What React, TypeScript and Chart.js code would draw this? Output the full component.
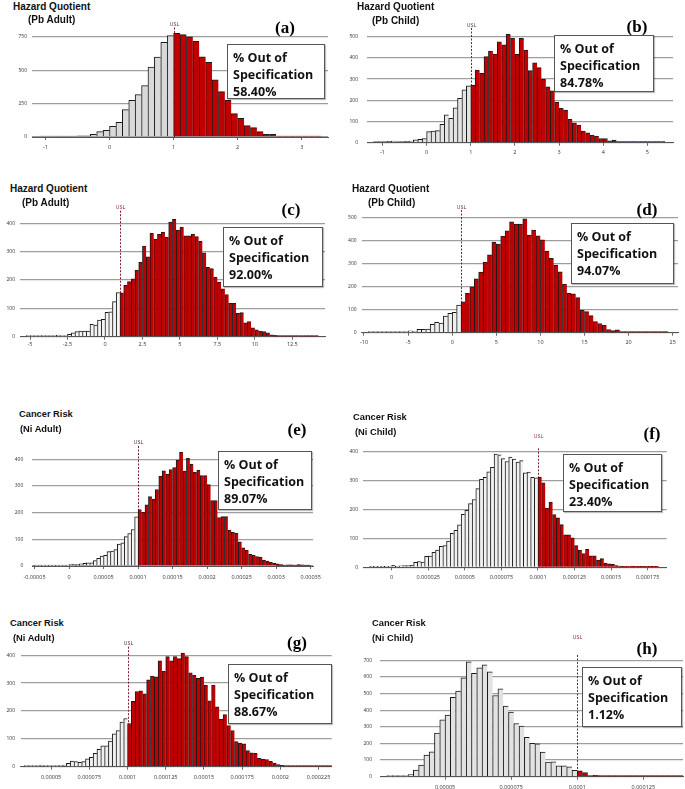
import React, { useEffect, useRef } from 'react';
import { Chart, registerables } from 'chart.js';
Chart.register(...registerables);

// ---------- DATA ----------
// (a) Hazard Quotient (Pb Adult)
const startA = -1.1; const binA = 0.1; const uslA = 1;
const grayA = [1,1,1,1,1,2,8,8,20,40,50,80,110,205,275,318,385,525,600,710,760];
const redA = [778,768,752,718,602,560,428,340,275,175,140,85,70,40,20,20,5,5,2,1,1,1,1];
const xLabelsA = ['-1','0','1','2','3'];
const yTicksA = [0,250,500,750];

// (b) Hazard Quotient (Pb Child)
const startB = -1.2; const binB = 0.1; const uslB = 1;
const grayB = [1,1,3,6,8,5,3,6,8,14,16,20,52,55,57,87,131,115,165,209,249,268];
const redB = [272,343,327,406,432,418,476,461,511,492,417,492,437,340,377,354,299,264,245,190,162,154,110,94,83,55,47,36,31,20,20,9,12,1,5,5,1,1,1,1,1,1,1,1];
const xLabelsB = ['-1','0','1','2','3','4','5'];
const yTicksB = [0,100,200,300,400,500];

// (c) Hazard Quotient (Pb Adult)
const startC = -5.25; const binC = 0.25; const uslC = 1;
const grayC = [1,1,1,1,1,1,1,2,6,3,4,8,14,18,20,20,20,44,41,59,61,86,88,124,156];
const redC = [155,181,194,204,235,262,320,282,365,344,361,369,351,404,414,376,387,356,356,362,353,336,296,245,240,209,193,169,149,118,118,82,85,49,53,31,24,20,18,14,7,5,4,2,2,3,1,3,1,1,1,1,1];
const xLabelsC = ['-5','-2.5','0','2.5','5','7.5','10','12.5'];
const yTicksC = [0,100,200,300,400];

// (d) Hazard Quotient (Pb Child)
const startD = -9.5; const binD = 0.5; const uslD = 1;
const grayD = [1,1,1,1,1,1,1,1,2,8,6,15,15,16,36,45,42,72,84,88,120];
const redD = [134,171,199,234,263,306,338,393,384,419,442,481,471,471,494,423,445,420,402,354,322,293,264,211,171,168,152,98,91,74,48,40,33,14,9,12,1,4,4,2,2,2,1,1,1,1,1];
const xLabelsD = ['-10','-5','0','5','10','15','20','25'];
const yTicksD = [0,100,200,300,400,500];

// (e) Cancer Risk (Ni Adult)
const startE = -0.00005; const binE = 0.000005; const uslE = 0.0001;
const grayE = [1,1,1,1,1,1,1,1,1,1,5,6,5,8,10,12,12,20,29,37,40,54,56,62,82,87,110,122,137,184];
const redE = [212,201,229,260,251,287,337,357,345,362,369,397,426,356,404,382,351,360,339,339,305,245,245,182,185,185,135,126,123,91,68,60,44,41,35,33,22,18,14,10,8,5,3,4,4,3,5,4,1,1];
const xLabelsE = ['-0.00005','0','0.00005','0.0001','0.00015','0.0002','0.00025','0.0003','0.00035'];
const yTicksE = [0,100,200,300,400];

// (f) Cancer Risk (Ni Child)
const startF = -0.000015; const binF = 0.0000025; const uslF = 0.0001;
const grayF = [1,1,1,1,2,3,7,3,5,6,6,7,17,20,18,38,39,52,60,73,75,91,118,128,147,184,198,221,235,273,305,312,331,347,393,390,377,367,382,375,365,370,328,330,312,310];
const redF = [313,293,205,226,183,172,148,113,113,102,75,60,48,62,40,40,25,30,15,12,10,6,4,2,2,4,1,1,1,1,1,1,1];
const xLabelsF = ['0','0.000025','0.00005','0.000075','0.0001','0.000125','0.00015','0.000175'];
const yTicksF = [0,100,200,300,400];

// (g) Cancer Risk (Ni Adult)
const startG = 0.0000325; const binG = 0.0000025; const uslG = 0.0001;
const grayG = [1,1,1,1,6,1,1,1,3,5,6,12,20,18,16,18,28,34,48,62,75,75,92,118,130,160,173];
const redG = [155,235,270,272,262,312,325,323,380,342,395,380,395,388,408,395,337,328,317,322,292,236,293,215,170,187,148,130,90,85,82,58,50,48,30,27,26,19,13,8,5,3,4,4,2,4,1,1,1,1,1,1,1,1];
const xLabelsG = ['0.00005','0.000075','0.0001','0.000125','0.00015','0.000175','0.0002','0.000225'];
const yTicksG = [0,100,200,300,400];

// (h) Cancer Risk (Ni Child)
const startH = 0.000028; const binH = 0.000002; const uslH = 0.0001;
const grayH = [2,2,3,6,12,40,70,130,150,262,342,370,478,515,595,690,622,655,672,630,488,528,425,388,320,305,237,200,197,148,88,90,65,65,60,38];
const redH = [35,25,5,8,5,3,2,1,2,1,3,1,2,1,3,1,1,2,1,1];
const xLabelsH = ['0.00005','0.000075','0.0001','0.000125'];
const yTicksH = [0,100,200,300,400,500,600,700];

// ---------- LAYOUT ----------
type Rect = { left: number; top: number; width: number; height: number };
type Cfg = {
  id: string; start: number; bin: number; usl: number; gray: number[]; red: number[];
  xLabels: string[]; yTicks: number[]; xMin: number; xMax: number; yMax: number;
  canvas: Rect; L: number; T: number; R: number; B: number; yPad: number; xPad: number;
  grayColor: string; uslColor: string; uslLabelY: number; uslLineTop: number;
  title: [string, string]; titleSize: number; titlePos: [number, number][];
  tag: string; tagPos: [number, number]; box: Rect; pct: string;
};

const RED = '#c00000';

const panels: Cfg[] = [
  { id: 'a', start: startA, bin: binA, usl: uslA, gray: grayA, red: redA, xLabels: xLabelsA, yTicks: yTicksA,
    xMin: -1.21, xMax: 3.41, yMax: 800, canvas: { left: 0, top: 16, width: 340, height: 140 },
    L: 32, T: 30.33, R: 328, B: 137, yPad: 5, xPad: 4.2, grayColor: '#d9d9d9', uslColor: '#444',
    uslLabelY: 24, uslLineTop: 27.5, title: ['Hazard Quotient', '(Pb Adult)'], titleSize: 10,
    titlePos: [[13, 7], [28, 20]], tag: '(a)', tagPos: [285, 28], box: { left: 227, top: 44, width: 98, height: 55 }, pct: '58.40%' },
  { id: 'b', start: startB, bin: binB, usl: uslB, gray: grayB, red: redB, xLabels: xLabelsB, yTicks: yTicksB,
    xMin: -1.35, xMax: 5.58, yMax: 540, canvas: { left: 340, top: 16, width: 345, height: 144 },
    L: 367, T: 28.2, R: 673, B: 142.7, yPad: 9, xPad: 3.5, grayColor: '#e4e4e4', uslColor: '#444',
    uslLabelY: 25, uslLineTop: 28, title: ['Hazard Quotient', '(Pb Child)'], titleSize: 10,
    titlePos: [[357, 7], [372, 21]], tag: '(b)', tagPos: [637, 27], box: { left: 554, top: 35, width: 100, height: 57 }, pct: '84.78%' },
  { id: 'c', start: startC, bin: binC, usl: uslC, gray: grayC, red: redC, xLabels: xLabelsC, yTicks: yTicksC,
    xMin: -5.67, xMax: 14.68, yMax: 440, canvas: { left: 0, top: 200, width: 340, height: 152 },
    L: 20, T: 211.96, R: 325, B: 336.7, yPad: 5, xPad: 1.6, grayColor: '#f3f3f3', uslColor: '#8b2a3a',
    uslLabelY: 207.7, uslLineTop: 210.7, title: ['Hazard Quotient', '(Pb Adult)'], titleSize: 10,
    titlePos: [[10, 189], [22, 203]], tag: '(c)', tagPos: [291, 210], box: { left: 223, top: 227, width: 100, height: 60 }, pct: '92.00%' },
  { id: 'd', start: startD, bin: binD, usl: uslD, gray: grayD, red: redD, xLabels: xLabelsD, yTicks: yTicksD,
    xMin: -10.26, xMax: 25.6, yMax: 540, canvas: { left: 340, top: 198, width: 345, height: 152 },
    L: 361.7, T: 208.1, R: 678, B: 332.7, yPad: 5, xPad: 3.8, grayColor: '#efefef', uslColor: '#8b2a3a',
    uslLabelY: 207.7, uslLineTop: 210, title: ['Hazard Quotient', '(Pb Child)'], titleSize: 10,
    titlePos: [[352, 189], [368, 203]], tag: '(d)', tagPos: [647, 210], box: { left: 571, top: 223, width: 103, height: 61 }, pct: '94.07%' },
  { id: 'e', start: startE, bin: binE, usl: uslE, gray: grayE, red: redE, xLabels: xLabelsE, yTicks: yTicksE,
    xMin: -0.0000536, xMax: 0.0003533, yMax: 450, canvas: { left: 0, top: 434, width: 340, height: 150 },
    L: 32, T: 446, R: 313, B: 566, yPad: 8.7, xPad: 4.9, grayColor: '#f5f5f5', uslColor: '#553333',
    uslLabelY: 442.3, uslLineTop: 446, title: ['Cancer Risk', '(Ni Adult)'], titleSize: 9.3,
    titlePos: [[19, 414], [20, 429]], tag: '(e)', tagPos: [297, 430], box: { left: 218, top: 451, width: 94, height: 59 }, pct: '89.07%' },
  { id: 'f', start: startF, bin: binF, usl: uslF, gray: grayF, red: redF, xLabels: xLabelsF, yTicks: yTicksF,
    xMin: -0.0000196, xMax: 0.000188, yMax: 420, canvas: { left: 340, top: 428, width: 345, height: 155 },
    L: 363, T: 446.2, R: 666.7, B: 567.3, yPad: 5, xPad: 4.2, grayColor: '#f2f2f2', uslColor: '#a03040',
    uslLabelY: 436.7, uslLineTop: 448.3, title: ['Cancer Risk', '(Ni Child)'], titleSize: 9.3,
    titlePos: [[353, 417], [355, 432]], tag: '(f)', tagPos: [652, 433.5], box: { left: 563, top: 454, width: 99, height: 58 }, pct: '23.40%' },
  { id: 'g', start: startG, bin: binG, usl: uslG, gray: grayG, red: redG, xLabels: xLabelsG, yTicks: yTicksG,
    xMin: 0.0000301, xMax: 0.0002336, yMax: 430, canvas: { left: 0, top: 634, width: 340, height: 155 },
    L: 20.7, T: 646.9, R: 331.7, B: 766.7, yPad: 5.7, xPad: 4.2, grayColor: '#efefef', uslColor: '#553333',
    uslLabelY: 643.3, uslLineTop: 646.7, title: ['Cancer Risk', '(Ni Adult)'], titleSize: 9.3,
    titlePos: [[10, 623], [13, 638]], tag: '(g)', tagPos: [297, 643], box: { left: 228, top: 664, width: 104, height: 60 }, pct: '88.67%' },
  { id: 'h', start: startH, bin: binH, usl: uslH, gray: grayH, red: redH, xLabels: xLabelsH, yTicks: yTicksH,
    xMin: 0.0000254, xMax: 0.00014, yMax: 730, canvas: { left: 340, top: 628, width: 345, height: 161 },
    L: 380, T: 655.3, R: 683, B: 776.7, yPad: 8, xPad: 4.2, grayColor: '#e2e2e2', uslColor: '#8b2a3a',
    uslLabelY: 637.7, uslLineTop: 655, title: ['Cancer Risk', '(Ni Child)'], titleSize: 9.3,
    titlePos: [[372, 623], [372, 638]], tag: '(h)', tagPos: [647, 649], box: { left: 582, top: 667, width: 100, height: 60 }, pct: '1.12%' },
];

const uslPlugin = {
  id: 'usl',
  beforeDatasetsDraw(chart: any, _args: any, opts: any) {
    const { ctx, chartArea, scales } = chart;
    const x = Math.round(scales.x.getPixelForValue(opts.value)) + 0.5;
    ctx.save();
    ctx.strokeStyle = '#7a2030';
    ctx.lineWidth = 1;
    ctx.setLineDash([2, 1.5]);
    ctx.beginPath();
    ctx.moveTo(x, opts.lineTop);
    ctx.lineTo(x, chartArea.bottom);
    ctx.stroke();
    ctx.setLineDash([]);
    ctx.fillStyle = opts.labelColor;
    ctx.font = '5.5px "Open Sans", sans-serif';
    ctx.textAlign = 'center';
    ctx.textBaseline = 'middle';
    ctx.fillText('USL', x, opts.labelY);
    ctx.restore();
  },
};

function Panel({ cfg }: { cfg: Cfg }) {
  const ref = useRef<HTMLCanvasElement>(null);
  useEffect(() => {
    const c = cfg.canvas;
    const yW = cfg.L - c.left;
    const xH = c.top + c.height - cfg.B;
    const padTop = cfg.T - c.top;
    const padRight = c.left + c.width - cfg.R;
    const counts = cfg.gray.concat(cfg.red);
    const points = counts.map((v, i) => ({ x: cfg.start + (i + 0.5) * cfg.bin, y: v }));
    const xTicks = cfg.xLabels.map(Number);
    const chart = new Chart(ref.current as HTMLCanvasElement, {
      type: 'bar',
      data: {
        datasets: [{
          data: points as any,
          backgroundColor: counts.map((_, i) => (i < cfg.gray.length ? cfg.grayColor : RED)),
          borderColor: '#1a1a1a',
          borderWidth: { top: 1, left: 1, right: 0, bottom: 0 } as any,
          borderSkipped: 'start',
          barPercentage: 1,
          categoryPercentage: 1,
          minBarLength: 1,
        }],
      },
      options: {
        animation: false,
        responsive: false,
        devicePixelRatio: 1,
        events: [],
        layout: { padding: { top: padTop, right: padRight, left: 0, bottom: 0 }, autoPadding: false } as any,
        plugins: {
          legend: { display: false },
          tooltip: { enabled: false },
          usl: { value: cfg.usl, lineTop: cfg.uslLineTop - c.top, labelY: cfg.uslLabelY - c.top, labelColor: cfg.uslColor },
        } as any,
        scales: {
          x: {
            type: 'linear',
            min: cfg.xMin,
            max: cfg.xMax,
            offset: false,
            afterBuildTicks: (ax: any) => { ax.ticks = xTicks.map((v) => ({ value: v })); },
            afterFit: (ax: any) => { ax.height = xH; },
            ticks: {
              callback: (_v: any, i: number) => cfg.xLabels[i],
              font: { size: 5.5, family: '"Open Sans", sans-serif' },
              color: '#333',
              padding: cfg.xPad,
              maxRotation: 0,
              minRotation: 0,
              autoSkip: false,
            },
            grid: { display: true, drawOnChartArea: false, drawTicks: true, tickLength: 3, color: '#666', offset: false },
            border: { display: true, color: '#555', width: 1 },
          } as any,
          y: {
            type: 'linear',
            min: 0,
            max: cfg.yMax,
            afterBuildTicks: (ax: any) => { ax.ticks = cfg.yTicks.map((v) => ({ value: v })); },
            afterFit: (ax: any) => { ax.width = yW; },
            ticks: {
              callback: (_v: any, i: number) => String(cfg.yTicks[i]),
              font: { size: 5, family: '"Open Sans", sans-serif' },
              color: '#333',
              padding: cfg.yPad,
            },
            grid: { color: '#9e9e9e', lineWidth: 1.3, drawTicks: false },
            border: { display: false },
          } as any,
        },
      },
      plugins: [uslPlugin as any],
    });
    return () => chart.destroy();
  }, [cfg]);

  const c = cfg.canvas;
  return (
    <>
      <canvas ref={ref} width={c.width} height={c.height}
        style={{ position: 'absolute', left: c.left, top: c.top, width: c.width, height: c.height }} />
      {cfg.title.map((t, i) => (
        <div key={'t' + i} style={{
          position: 'absolute', left: cfg.titlePos[i][0], top: cfg.titlePos[i][1] - 6, lineHeight: '12px',
          fontFamily: '"Liberation Sans", Arial, sans-serif', fontWeight: 700, fontSize: cfg.titleSize,
          color: '#111', whiteSpace: 'nowrap',
        }}>{t}</div>
      ))}
      <div style={{
        position: 'absolute', left: cfg.tagPos[0] - 25, top: cfg.tagPos[1] - 11, width: 50, lineHeight: '22px',
        textAlign: 'center', fontFamily: '"Liberation Serif", "Times New Roman", serif', fontWeight: 700,
        fontSize: 17, color: '#000',
      }}>{cfg.tag}</div>
      <div style={{
        position: 'absolute', left: cfg.box.left, top: cfg.box.top, width: cfg.box.width, height: cfg.box.height,
        boxSizing: 'border-box', border: '1px solid #555', background: '#fff', padding: '3.5px 0 0 5px',
        boxShadow: '1px 1px 1px rgba(0,0,0,0.25)',
        fontFamily: '"Open Sans", sans-serif', fontWeight: 700, fontSize: 12.5, lineHeight: '17px', color: '#111',
        whiteSpace: 'nowrap',
      }}>
        <div>% Out of</div>
        <div>Specification</div>
        <div>{cfg.pct}</div>
      </div>
    </>
  );
}

export default function App() {
  return (
    <div style={{ position: 'absolute', left: 0, top: 0, width: 685, height: 789, background: '#fff', overflow: 'hidden' }}>
      {panels.map((p) => <Panel key={p.id} cfg={p} />)}
    </div>
  );
}
